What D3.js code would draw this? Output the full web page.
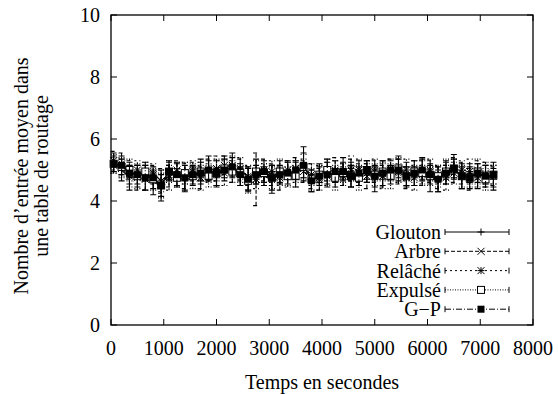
<!DOCTYPE html>
<html><head><meta charset="utf-8">
<script src="https://cdn.jsdelivr.net/npm/d3@7"></script>
<style>body{margin:0;background:#fff}svg{display:block}</style>
</head><body><svg id="c" width="558" height="394"></svg>
<script>
const times = [50,200,350,500,650,800,950,1100,1250,1400,1550,1700,1850,2000,2150,2300,2450,2600,2750,2900,3050,3200,3350,3500,3650,3800,3950,4100,4250,4400,4550,4700,4850,5000,5150,5300,5450,5600,5750,5900,6050,6200,6350,6500,6650,6800,6950,7100,7250];
const glouton = [5.25,5.0,4.75,4.8,4.95,4.6,4.5,5.0,4.85,4.65,4.8,5.0,5.05,4.75,5.1,5.15,4.8,4.7,4.95,4.8,4.7,4.95,5.0,4.85,5.2,4.65,4.9,4.95,4.75,5.05,4.85,4.8,4.95,4.7,5.0,4.85,5.1,4.85,4.8,5.05,4.75,4.65,5.0,5.1,4.75,4.9,4.8,4.85,4.7];
const arbre = [5.3,5.2,5.0,4.75,4.7,4.85,4.65,4.8,5.0,4.8,4.95,4.75,5.0,5.05,5.15,4.95,5.0,4.8,4.7,5.0,4.85,4.75,5.0,5.05,4.95,4.8,4.7,4.95,5.0,4.85,5.0,4.9,4.8,4.95,4.8,5.05,4.95,4.75,5.0,4.9,4.95,4.75,4.85,5.0,4.9,4.7,5.0,4.85,4.8];
const relache = [5.15,5.05,4.8,5.0,4.75,4.9,4.65,4.75,4.95,4.9,5.0,4.75,4.9,5.0,4.9,5.15,5.05,4.75,4.7,4.85,4.95,4.8,4.85,4.95,5.05,4.85,4.75,4.8,4.95,4.8,5.05,5.0,4.9,5.0,4.8,5.0,4.9,5.0,4.75,4.85,5.0,4.85,4.75,4.9,5.0,4.95,4.75,4.9,4.85];
const expulse = [5.2,5.1,5.0,4.8,4.95,4.7,4.5,4.95,4.75,4.9,4.8,4.95,4.8,4.9,5.05,4.95,4.9,4.65,4.95,4.9,4.75,4.95,4.8,4.8,5.1,4.7,4.85,5.0,4.75,4.9,4.8,4.75,5.0,4.85,4.95,4.8,5.05,4.8,4.95,4.9,4.8,4.8,4.95,5.05,4.8,4.75,4.95,4.7,4.85];
const gp = [5.2,5.15,4.9,4.85,4.75,4.75,4.5,4.95,4.85,4.75,4.85,4.9,5.0,4.9,5.0,5.1,4.85,4.7,4.85,4.95,4.75,4.85,4.9,5.0,5.15,4.65,4.8,4.85,4.95,4.95,4.8,4.9,5.0,4.8,4.9,5.0,5.0,4.8,4.9,5.0,4.85,4.7,4.9,5.05,4.8,4.75,4.9,4.8,4.85];
const errGlouton = [.3,.35,.4,.35,.3,.4,.35,.3,.4,.35,.3,.35,.4,.3,.35,.4,.3,.35,.4,.3,.45,.35,.3,.4,.55,.35,.3,.4,.3,.35,.4,.3,.35,.4,.3,.3,.35,.4,.3,.35,.45,.35,.3,.4,.35,.3,.4,.3,.35];
const errArbre = [.3,.35,.3,.4,.35,.3,.4,.35,.3,.4,.3,.35,.35,.4,.3,.35,.35,.3,.85,.35,.35,.4,.3,.35,.35,.4,.35,.3,.4,.35,.35,.3,.4,.35,.35,.3,.4,.35,.3,.4,.35,.35,.3,.4,.35,.35,.3,.4,.3];
const errRelache = [.25,.3,.35,.3,.4,.3,.35,.4,.3,.35,.3,.4,.3,.35,.4,.3,.35,.4,.3,.35,.35,.3,.4,.35,.3,.35,.4,.3,.35,.3,.4,.35,.3,.35,.4,.35,.3,.35,.4,.3,.35,.3,.4,.35,.3,.4,.3,.35,.3];
const errExpulse = [.3,.3,.35,.4,.3,.35,.4,.35,.3,.35,.4,.3,.35,.4,.3,.35,.3,.4,.35,.3,.35,.4,.3,.35,.4,.35,.3,.35,.4,.3,.35,.4,.3,.35,.3,.4,.35,.3,.35,.4,.3,.35,.4,.3,.35,.3,.4,.35,.3];
const errGp = [.25,.3,.35,.3,.4,.35,.5,.3,.35,.4,.3,.35,.3,.4,.35,.3,.35,.4,.3,.35,.4,.3,.35,.3,.4,.35,.3,.4,.35,.3,.35,.4,.3,.35,.4,.3,.35,.3,.4,.35,.3,.4,.35,.3,.4,.35,.3,.35,.4];
const seriesNames = ["Glouton","Arbre","Relâché","Expulsé","G\u2212P"];
const xTicks = [0,1000,2000,3000,4000,5000,6000,7000,8000];
const yTicks = [0,2,4,6,8,10];

const series = [
  {name:seriesNames[0], v:glouton, e:errGlouton, dash:null, marker:"plus"},
  {name:seriesNames[1], v:arbre, e:errArbre, dash:"4,2", marker:"cross"},
  {name:seriesNames[2], v:relache, e:errRelache, dash:"2,3", marker:"star"},
  {name:seriesNames[3], v:expulse, e:errExpulse, dash:"1,1.5", marker:"box"},
  {name:seriesNames[4], v:gp, e:errGp, dash:"6,2,1,2", marker:"fbox"}
];

const svg = d3.select("#c");
const L=111, R=533, T=15, B=325;
const x = d3.scaleLinear().domain([0,8000]).range([L,R]);
const y = d3.scaleLinear().domain([0,10]).range([B,T]);
const FF = '"Liberation Serif"';
const FS = 20;

svg.append("rect").attr("x",L).attr("y",T).attr("width",R-L).attr("height",B-T)
  .attr("fill","none").attr("stroke","#000").attr("stroke-width",1.3);

const tl=6;
const g = svg.append("g");
xTicks.forEach(t=>{
  g.append("line").attr("x1",x(t)).attr("x2",x(t)).attr("y1",B).attr("y2",B-tl).attr("stroke","#000");
  g.append("line").attr("x1",x(t)).attr("x2",x(t)).attr("y1",T).attr("y2",T+tl).attr("stroke","#000");
  g.append("text").attr("x",x(t)).attr("y",355).attr("text-anchor","middle").style("font-family",FF).style("font-size",FS+"px").text(t);
});
yTicks.forEach(t=>{
  g.append("line").attr("x1",L).attr("x2",L+tl).attr("y1",y(t)).attr("y2",y(t)).attr("stroke","#000");
  g.append("line").attr("x1",R).attr("x2",R-tl).attr("y1",y(t)).attr("y2",y(t)).attr("stroke","#000");
  g.append("text").attr("x",100).attr("y",y(t)+7).attr("text-anchor","end").style("font-family",FF).style("font-size",FS+"px").text(t);
});

svg.append("text").attr("x",(L+R)/2).attr("y",389).attr("text-anchor","middle").style("font-family",FF).style("font-size",FS+"px").text("Temps en secondes");
const yl = svg.append("text").attr("transform","translate(28,176) rotate(-90)").attr("text-anchor","middle").style("font-family",FF).style("font-size",FS+"px");
yl.append("tspan").attr("x",0).attr("dy",0).text("Nombre d\u2019entrée moyen dans");
yl.append("tspan").attr("x",0).attr("dy",20).text("une table de routage");

function marker(sel, type, cx, cy){
  const s=3.5;
  if(type==="plus"){
    sel.append("path").attr("d",`M${cx-s},${cy}H${cx+s}M${cx},${cy-s}V${cy+s}`).attr("stroke","#000").attr("fill","none");
  } else if(type==="cross"){
    sel.append("path").attr("d",`M${cx-s},${cy-s}L${cx+s},${cy+s}M${cx-s},${cy+s}L${cx+s},${cy-s}`).attr("stroke","#000").attr("fill","none");
  } else if(type==="star"){
    sel.append("path").attr("d",`M${cx-s},${cy}H${cx+s}M${cx},${cy-s}V${cy+s}M${cx-s},${cy-s}L${cx+s},${cy+s}M${cx-s},${cy+s}L${cx+s},${cy-s}`).attr("stroke","#000").attr("fill","none");
  } else if(type==="box"){
    sel.append("rect").attr("x",cx-s).attr("y",cy-s).attr("width",2*s).attr("height",2*s).attr("fill","#fff").attr("stroke","#000");
  } else {
    sel.append("rect").attr("x",cx-s).attr("y",cy-s).attr("width",2*s).attr("height",2*s).attr("fill","#000");
  }
}

const data = svg.append("g");
series.forEach(sr=>{
  const gs = data.append("g");
  const line = d3.line().x((d,i)=>x(times[i])).y(d=>y(d));
  gs.append("path").attr("d",line(sr.v)).attr("fill","none").attr("stroke","#000").attr("stroke-width",1.1)
    .attr("stroke-dasharray",sr.dash);
  sr.v.forEach((v,i)=>{
    const cx=x(times[i]), y1=y(v-sr.e[i]), y2=y(v+sr.e[i]);
    gs.append("path").attr("d",`M${cx},${y1}V${y2}M${cx-3},${y1}H${cx+3}M${cx-3},${y2}H${cx+3}`)
      .attr("stroke","#000").attr("fill","none").attr("stroke-width",1.1).attr("stroke-dasharray",sr.dash);
    marker(gs, sr.marker, cx, y(v));
  });
});

const lg = svg.append("g");
series.forEach((sr,i)=>{
  const cy = 232 + i*19.3;
  lg.append("text").attr("x",441).attr("y",cy+7).attr("text-anchor","end").style("font-family",FF).style("font-size",FS+"px").text(sr.name);
  lg.append("path").attr("d",`M445,${cy}H509`).attr("stroke","#000").attr("stroke-dasharray",sr.dash).attr("fill","none");
  lg.append("path").attr("d",`M445,${cy-3}V${cy+3}M509,${cy-3}V${cy+3}`).attr("stroke","#000");
  marker(lg, sr.marker, 481, cy);
});
</script></body></html>
